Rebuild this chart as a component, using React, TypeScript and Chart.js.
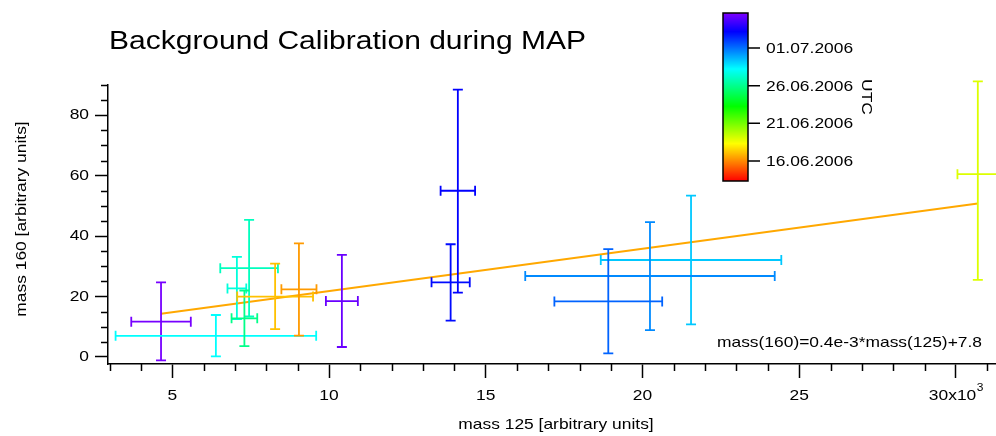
import { useEffect, useRef } from "react";
import { Chart, registerables } from "chart.js";

Chart.register(...registerables);

// mass 125 signal (x10^3 arbitrary units) and its spread
const mass125 = [4.64, 6.39, 7.45, 7.06, 7.3, 8.28, 9.04, 10.41, 14.11, 13.88, 21.55, 20.24, 18.91, 30.7];
const mass125Err = [0.95, 3.2, 0.92, 0.3, 0.41, 1.21, 0.56, 0.51, 0.55, 0.61, 2.88, 3.98, 1.72, 0.65];

// mass 160 signal (arbitrary units) with upper and lower spread
const mass160 = [11.7, 7.0, 29.4, 22.7, 12.8, 20.0, 22.4, 18.5, 55.0, 24.7, 32.1, 26.8, 18.4, 60.5];
const mass160ErrUp = [13.0, 6.9, 16.0, 10.4, 9.2, 10.9, 15.2, 15.3, 33.5, 12.6, 21.3, 17.8, 17.3, 30.7];
const mass160ErrDown = [12.8, 6.8, 16.0, 10.2, 9.2, 10.8, 15.3, 15.2, 33.7, 12.7, 21.3, 17.9, 17.2, 35.0];

// UTC time of each calibration
const sampleTimes = [
  "2006-07-05 12:00",
  "2006-06-28 05:00",
  "2006-06-26 23:00",
  "2006-06-27 13:00",
  "2006-06-25 22:00",
  "2006-06-17 02:00",
  "2006-06-16 08:00",
  "2006-07-05 06:00",
  "2006-07-03 05:00",
  "2006-07-03 00:00",
  "2006-06-29 07:00",
  "2006-06-30 12:00",
  "2006-07-01 06:00",
  "2006-06-18 23:00",
];

// colour scale range and its labelled dates
const colorScaleStart = "2006-06-13 08:00";
const colorScaleEnd = "2006-07-05 16:00";
const colorScaleTicks = ["16.06.2006", "21.06.2006", "26.06.2006", "01.07.2006"];

// linear fit, mass 160 against mass 125 (x in 10^3 units)
const fitSlope = 1.4;
const fitIntercept = 7.8;
const fitLabel = "mass(160)=0.4e-3*mass(125)+7.8";

const titleText = "Background Calibration during MAP";
const xTitle = "mass 125 [arbitrary units]";
const yTitle = "mass 160 [arbitrary units]";
const colorTitle = "UTC";

const FONT = '"Liberation Sans", Arial, Helvetica, sans-serif';
const STRETCH = 1.2;
const CAP = 5;

function parseStamp(s: string): number {
  const [d, t = "00:00"] = s.split(" ");
  const [y, m, day] = d.split("-").map(Number);
  const [h, mi] = t.split(":").map(Number);
  return Date.UTC(y, m - 1, day, h, mi);
}

function parseDotted(s: string): number {
  const [d, m, y] = s.split(".").map(Number);
  return Date.UTC(y, m - 1, d);
}

const T0 = parseStamp(colorScaleStart);
const T1 = parseStamp(colorScaleEnd);

function rainbow(t: number): string {
  const f = Math.min(1, Math.max(0, (t - T0) / (T1 - T0)));
  return `hsl(${270 * f}, 100%, 50%)`;
}

function drawText(
  ctx: CanvasRenderingContext2D,
  str: string,
  x: number,
  y: number,
  size: number,
  align: CanvasTextAlign,
  baseline: CanvasTextBaseline = "middle",
  rot = 0
) {
  ctx.save();
  ctx.translate(x, y);
  ctx.rotate(rot);
  ctx.scale(STRETCH, 1);
  ctx.font = `${size}px ${FONT}`;
  ctx.textAlign = align;
  ctx.textBaseline = baseline;
  ctx.fillStyle = "#000";
  ctx.fillText(str, 0, 0);
  ctx.restore();
}

function textWidth(ctx: CanvasRenderingContext2D, str: string, size: number) {
  ctx.save();
  ctx.font = `${size}px ${FONT}`;
  const w = ctx.measureText(str).width * STRETCH;
  ctx.restore();
  return w;
}

const errorBars = {
  id: "errorBars",
  afterDatasetsDraw(chart: Chart) {
    const ctx = chart.ctx;
    const xs = chart.scales.x;
    const ys = chart.scales.y;
    ctx.save();
    ctx.lineWidth = 1.8;
    mass125.forEach((mx, i) => {
      const my = mass160[i];
      const px = xs.getPixelForValue(mx);
      const py = ys.getPixelForValue(my);
      const x0 = xs.getPixelForValue(mx - mass125Err[i]);
      const x1 = xs.getPixelForValue(mx + mass125Err[i]);
      const y0 = ys.getPixelForValue(my - mass160ErrDown[i]);
      const y1 = ys.getPixelForValue(my + mass160ErrUp[i]);
      ctx.strokeStyle = rainbow(parseStamp(sampleTimes[i]));
      ctx.beginPath();
      ctx.moveTo(px, y0);
      ctx.lineTo(px, y1);
      ctx.moveTo(x0, py);
      ctx.lineTo(x1, py);
      ctx.moveTo(px - CAP, y0);
      ctx.lineTo(px + CAP, y0);
      ctx.moveTo(px - CAP, y1);
      ctx.lineTo(px + CAP, y1);
      ctx.moveTo(x0, py - CAP);
      ctx.lineTo(x0, py + CAP);
      ctx.moveTo(x1, py - CAP);
      ctx.lineTo(x1, py + CAP);
      ctx.stroke();
    });
    ctx.restore();
  },
};

const decorations = {
  id: "decorations",
  afterDraw(chart: Chart) {
    const ctx = chart.ctx;
    const xs = chart.scales.x;
    const ys = chart.scales.y;
    const area = chart.chartArea;

    // minor ticks
    ctx.save();
    ctx.strokeStyle = "#000";
    ctx.lineWidth = 1.5;
    ctx.beginPath();
    for (let v = Math.ceil(xs.min); v <= xs.max; v += 1) {
      if (v % 5 === 0) continue;
      const p = Math.round(xs.getPixelForValue(v)) + 0.5;
      ctx.moveTo(p, area.bottom);
      ctx.lineTo(p, area.bottom + 7);
    }
    for (let v = Math.ceil(ys.min / 5) * 5; v <= ys.max + 1e-6; v += 5) {
      if (v % 20 === 0) continue;
      const p = Math.round(ys.getPixelForValue(v)) + 0.5;
      ctx.moveTo(area.left, p);
      ctx.lineTo(area.left - 7, p);
    }
    ctx.stroke();
    ctx.restore();

    // tick labels
    const xTicks = xs.ticks;
    xTicks.forEach((t, idx) => {
      const px = xs.getPixelForValue(t.value);
      if (idx === xTicks.length - 1) {
        const main = `${t.value}x10`;
        const wMain = textWidth(ctx, main, 14.5);
        const wSup = textWidth(ctx, "3", 10);
        const left = px - (wMain + wSup) / 2;
        drawText(ctx, main, left, 396, 14.5, "left");
        drawText(ctx, "3", left + wMain + 0.5, 388, 10, "left");
      } else {
        drawText(ctx, String(t.value), px, 396, 14.5, "center");
      }
    });
    ys.ticks.forEach((t) => {
      drawText(ctx, String(t.value), 89, ys.getPixelForValue(t.value), 14.5, "right");
    });

    // axis titles and chart title
    drawText(ctx, xTitle, 556, 425, 14.5, "center");
    drawText(ctx, yTitle, 22, 219, 14.5, "center", "middle", -Math.PI / 2);
    drawText(ctx, titleText, 109, 49, 25, "left", "alphabetic");

    // fit equation
    drawText(ctx, fitLabel, 717, 343, 14.5, "left");

    // colour scale bar
    const bx = 723;
    const bw = 25;
    const bt = 13;
    const bb = 181;
    const bh = bb - bt;
    for (let r = 0; r < bh; r++) {
      const t = T1 - ((r + 0.5) / bh) * (T1 - T0);
      ctx.fillStyle = rainbow(t);
      ctx.fillRect(bx, bt + r, bw, 1);
    }
    ctx.save();
    ctx.strokeStyle = "#000";
    ctx.lineWidth = 1.5;
    ctx.strokeRect(bx, bt, bw, bh);
    ctx.beginPath();
    colorScaleTicks.forEach((lab) => {
      const t = parseDotted(lab);
      const py = bt + ((T1 - t) / (T1 - T0)) * bh;
      ctx.moveTo(bx + bw, py);
      ctx.lineTo(bx + bw + 12, py);
    });
    ctx.stroke();
    ctx.restore();
    colorScaleTicks.forEach((lab) => {
      const t = parseDotted(lab);
      const py = bt + ((T1 - t) / (T1 - T0)) * bh;
      drawText(ctx, lab, 766, py + 1, 14.5, "left");
    });
    drawText(ctx, colorTitle, 866, 97, 14.5, "center", "middle", Math.PI / 2);
  },
};

export default function App() {
  const canvasRef = useRef<HTMLCanvasElement | null>(null);

  useEffect(() => {
    const canvas = canvasRef.current;
    if (!canvas) return;
    const xFirst = Math.min(...mass125);
    const xLast = Math.max(...mass125);
    const fitPoints = [xFirst, xLast].map((x) => ({ x, y: fitSlope * x + fitIntercept }));

    const chart = new Chart(canvas, {
      type: "scatter",
      data: {
        datasets: [
          {
            type: "line",
            data: fitPoints,
            borderColor: "#ffa800",
            borderWidth: 2,
            pointRadius: 0,
            fill: false,
          },
          {
            data: mass125.map((x, i) => ({ x, y: mass160[i] })),
            pointRadius: 0,
            showLine: false,
          },
        ],
      },
      options: {
        animation: false,
        responsive: false,
        maintainAspectRatio: false,
        layout: { padding: { top: 85, left: 0, right: 0, bottom: 0 } },
        plugins: {
          legend: { display: false },
          tooltip: { enabled: false },
          title: { display: false },
        },
        scales: {
          x: {
            type: "linear",
            min: 2.948,
            max: 31.28,
            afterFit: (s: any) => {
              s.height = 72;
            },
            border: { display: true, color: "#000", width: 1.5 },
            grid: {
              display: true,
              drawOnChartArea: false,
              drawTicks: true,
              tickLength: 14,
              tickColor: "#000",
              tickWidth: 1.5,
            },
            ticks: { display: false, stepSize: 5, includeBounds: false, autoSkip: false },
          },
          y: {
            type: "linear",
            min: -2.32,
            max: 90,
            afterFit: (s: any) => {
              s.width = 108;
            },
            border: { display: true, color: "#000", width: 1.5 },
            grid: {
              display: true,
              drawOnChartArea: false,
              drawTicks: true,
              tickLength: 13,
              tickColor: "#000",
              tickWidth: 1.5,
            },
            ticks: { display: false, stepSize: 20, includeBounds: false, autoSkip: false },
          },
        },
      },
      plugins: [errorBars, decorations],
    });
    return () => chart.destroy();
  }, []);

  return (
    <div style={{ position: "absolute", left: 0, top: 0, width: 996, height: 436, background: "#fff" }}>
      <canvas ref={canvasRef} width={996} height={436} style={{ display: "block" }} />
    </div>
  );
}
